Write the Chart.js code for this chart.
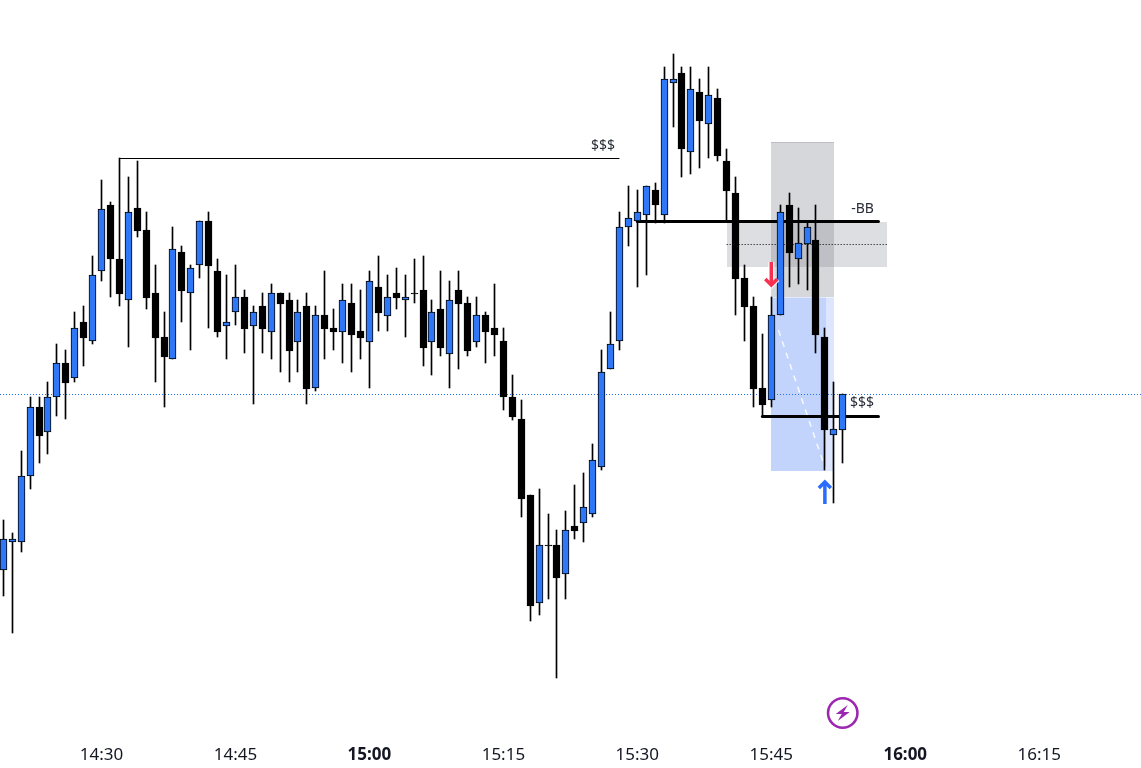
<!DOCTYPE html>
<html>
<head>
<meta charset="utf-8">
<style>
html,body{margin:0;padding:0;background:#fff;overflow:hidden}
#wrap{position:absolute;left:0;top:0;width:1141px;height:768px}
</style>
<script src="https://cdn.jsdelivr.net/npm/chart.js@4/dist/chart.umd.min.js"></script>
</head>
<body>
<div id="wrap"><canvas id="c" width="1141" height="768"></canvas></div>
<script>
// Time of the first bar, in minutes after midnight (14:19); one bar per minute
const firstMinute = 859;
const opens  = [130,158,158,224,293,268,303,337,322,378,359,429,495,441,400,492,470,407,363,341,448,407,435,479,429,374,388,403,374,394,368,407,400,358,394,312,385,372,368,397,369,358,413,384,407,400,407,410,358,391,346,410,397,358,385,372,359,303,281,205,97,155,155,126,174,177,186,233,331,359,473,479,485,510,485,617,627,548,608,576,602,539,507,422,394,312,300,385,495,441,456,460,363,265,270];
const highs  = [180,167,249,303,303,318,356,350,388,394,444,520,498,542,523,539,488,435,388,473,454,435,479,488,441,425,435,410,394,407,416,407,407,400,407,394,429,391,416,416,410,429,444,425,432,425,441,444,400,429,419,429,403,403,388,416,372,325,300,205,211,186,170,189,215,227,256,350,388,488,514,510,514,517,633,646,633,633,621,633,611,551,523,435,403,366,403,495,507,492,478,495,372,318,306];
const lows   = [104,67,148,211,237,246,284,281,318,334,356,419,403,394,353,463,391,318,293,341,378,350,422,372,363,341,375,347,296,347,341,328,318,328,296,309,341,350,337,328,341,312,369,369,391,363,397,334,325,344,312,331,344,353,337,344,290,280,183,79,85,101,22,101,161,158,183,230,331,350,454,413,425,477,477,573,523,526,532,542,539,479,385,359,293,284,293,385,413,416,410,347,230,197,237];
const closes = [161,161,224,293,264,303,337,317,372,362,425,491,441,406,488,469,402,362,343,451,409,432,479,434,368,378,403,371,388,371,407,396,349,388,311,385,371,368,400,365,362,419,387,403,402,403,406,352,388,352,400,396,349,385,368,365,303,283,201,94,155,154,122,170,169,193,240,328,356,473,482,488,514,495,621,621,551,611,579,605,544,509,421,393,311,295,385,488,447,457,473,365,270,271,306];

const tickMinutes = [870,885,900,915,930,945,960,975];
const boldMinutes = [900,960];

// Levels, on the same price scale as the bars
const referenceLevel = 305.5;
const highLevel = 541.5, highFrom = 872, highTo = 928;   // $$$ at 14:32 -> 15:28
const bbLevel = 478.5,  bbFrom = 930,  bbTo = 957;       // -BB
const lowLevel = 283.5, lowFrom = 944, lowTo = 957;      // $$$
const midLevel = 455.5, midFrom = 940, midTo = 958;      // dotted mid of the grey zone
const pathMinutes = [945.8, 951.1];
const pathPrices  = [370, 230];

// Zones: [fromMinute, toMinute, topPrice, bottomPrice, colour]
const zoneUpper = [945, 952, 558, 403, 'rgba(120,123,134,0.30)'];
const zoneWide  = [940, 958, 478, 433, 'rgba(120,123,134,0.25)'];
const zoneBlue  = [945, 951.1, 402.5, 229, '#c3d4fc'];
const zoneBlueLight = [951.1, 952, 402.5, 229, '#dde6fe'];

const BLUE = '#2e77f6', BLACK = '#000000';
const isUp = closes.map((c, i) => c >= opens[i] && c !== 154);
const minuteAt = i => firstMinute + i;

const wickData = highs.map((h, i) => ({x: minuteAt(i), y: [lows[i], h]}));
const bodyData = opens.map((o, i) => ({x: minuteAt(i), y: [o, closes[i]]}));

function fmt(m){ const h = Math.floor(m/60), n = m%60; return h + ':' + String(n).padStart(2,'0'); }

const decor = {
  id: 'decor',
  beforeDatasetsDraw(chart){
    const {ctx, scales:{x, y}} = chart;
    // crisp candle columns
    chart.data.datasets.forEach((d, di) => {
      if (d.type !== 'bar') return;
      chart.getDatasetMeta(di).data.forEach(el => { el.x = Math.floor(el.x) + 0.5; });
    });
    ctx.save();
    [zoneUpper, zoneWide, zoneBlue, zoneBlueLight].forEach(z => {
      const l = Math.round(x.getPixelForValue(z[0])), r = Math.round(x.getPixelForValue(z[1]));
      const t = y.getPixelForValue(z[2]), b = y.getPixelForValue(z[3]);
      ctx.fillStyle = z[4];
      ctx.fillRect(l, t, r - l, b - t);
    });
    const ul = Math.round(x.getPixelForValue(zoneUpper[0])), ur = Math.round(x.getPixelForValue(zoneUpper[1]));
    ctx.fillStyle = '#bdbec1';
    ctx.fillRect(ul, y.getPixelForValue(zoneUpper[2]), ur - ul, 1);
    ctx.restore();
  },
  afterDatasetsDraw(chart){
    const {ctx, scales:{x, y}} = chart;
    ctx.save();
    // labels
    ctx.font = '14px "Noto Sans"';
    ctx.fillStyle = '#2a2e39';
    ctx.textBaseline = 'middle';
    ctx.textAlign = 'left';
    ctx.fillText('$$$', x.getPixelForValue(924.8), y.getPixelForValue(554));
    ctx.fillText('-BB', x.getPixelForValue(953.95), y.getPixelForValue(491));
    ctx.fillText('$$$', x.getPixelForValue(953.8), y.getPixelForValue(297));

    const arrow = (minute, tipPrice, tailPrice, colour) => {
      const px = x.getPixelForValue(minute), tip = y.getPixelForValue(tipPrice), tail = y.getPixelForValue(tailPrice);
      const dir = tip > tail ? -1 : 1;
      const draw = (col, w) => {
        ctx.strokeStyle = col; ctx.lineWidth = w; ctx.lineCap = 'butt'; ctx.lineJoin = 'miter';
        ctx.beginPath(); ctx.moveTo(px, tail); ctx.lineTo(px, tip + dir * 2); ctx.stroke();
        ctx.beginPath(); ctx.moveTo(px - 6, tip + dir * 7); ctx.lineTo(px, tip + dir * 1); ctx.lineTo(px + 6, tip + dir * 7); ctx.stroke();
      };
      draw('rgba(255,255,255,0.85)', 6);
      draw(colour, 3.5);
    };
    arrow(945, 414, 438, '#f7304f');
    arrow(951.0, 219, 196, '#2a6cff');

    // bolt badge
    const cx = x.getPixelForValue(953), cy = y.getPixelForValue(-13);
    ctx.strokeStyle = '#9c27b0'; ctx.lineWidth = 2.6;
    ctx.beginPath(); ctx.arc(cx, cy, 14.7, 0, Math.PI * 2); ctx.stroke();
    ctx.fillStyle = '#9c27b0';
    ctx.beginPath();
    [[5,-8],[-7,1],[-1,1],[-5,8],[7,-1],[1,-1],[5,-8]].forEach((p, i) => {
      i ? ctx.lineTo(cx + p[0], cy + p[1]) : ctx.moveTo(cx + p[0], cy + p[1]);
    });
    ctx.fill();
    ctx.restore();
  }
};

new Chart(document.getElementById('c'), {
  type: 'bar',
  data: {
    datasets: [
      {type:'bar', label:'Bodies', data: bodyData, order: 1, grouped:false, barThickness: 7,
       backgroundColor: isUp.map(u => u ? BLUE : BLACK), borderColor: BLACK, borderWidth: 1, borderSkipped: false},
      {type:'bar', label:'Wicks', data: wickData, order: 2, grouped:false, barThickness: 1,
       backgroundColor: BLACK, borderWidth: 0},
      {type:'line', label:'$$$ high', data:[{x:highFrom,y:highLevel},{x:highTo,y:highLevel}], order: 3,
       borderColor:'#000', borderWidth:1, pointRadius:0},
      {type:'line', label:'-BB', data:[{x:bbFrom,y:bbLevel},{x:bbTo,y:bbLevel}], order: 3,
       borderColor:'#000', borderWidth:3, pointRadius:0, borderCapStyle:'round'},
      {type:'line', label:'$$$ low', data:[{x:lowFrom,y:lowLevel},{x:lowTo,y:lowLevel}], order: 3,
       borderColor:'#000', borderWidth:3, pointRadius:0, borderCapStyle:'round'},
      {type:'line', label:'Mid', data:[{x:midFrom,y:midLevel},{x:midTo,y:midLevel}], order: 4,
       borderColor:'#000', borderWidth:1, borderDash:[1,2], pointRadius:0},
      {type:'line', label:'Reference', data:[{x:858.63,y:referenceLevel},{x:986.4,y:referenceLevel}], order: 5,
       borderColor:'#1f6ff5', borderWidth:1, borderDash:[1,2], pointRadius:0},
      {type:'line', label:'Path', data: pathMinutes.map((m,i)=>({x:m,y:pathPrices[i]})), order: 4,
       borderColor:'rgba(255,255,255,0.85)', borderWidth:1.5, borderDash:[6,6], pointRadius:0}
    ]
  },
  options: {
    responsive: false,
    animation: false,
    events: [],
    layout: {padding: 0},
    plugins: {legend:{display:false}, tooltip:{enabled:false}},
    scales: {
      x: {
        type:'linear', min:858.63, max:986.4, offset:false,
        grid:{display:false}, border:{display:false},
        afterBuildTicks(s){ s.ticks = tickMinutes.map(v => ({value:v})); },
        afterFit(s){ s.height = 30; },
        ticks:{
          autoSkip:false, maxRotation:0, padding:-1, color:'#131722',
          font: ctx => ({family:'"Noto Sans"', size:17, weight: (ctx.tick && boldMinutes.includes(ctx.tick.value)) ? '700' : '400'}),
          callback: v => fmt(v)
        }
      },
      y: {type:'linear', min:-38, max:700, display:false}
    }
  },
  plugins: [decor]
});
</script>
</body>
</html>
